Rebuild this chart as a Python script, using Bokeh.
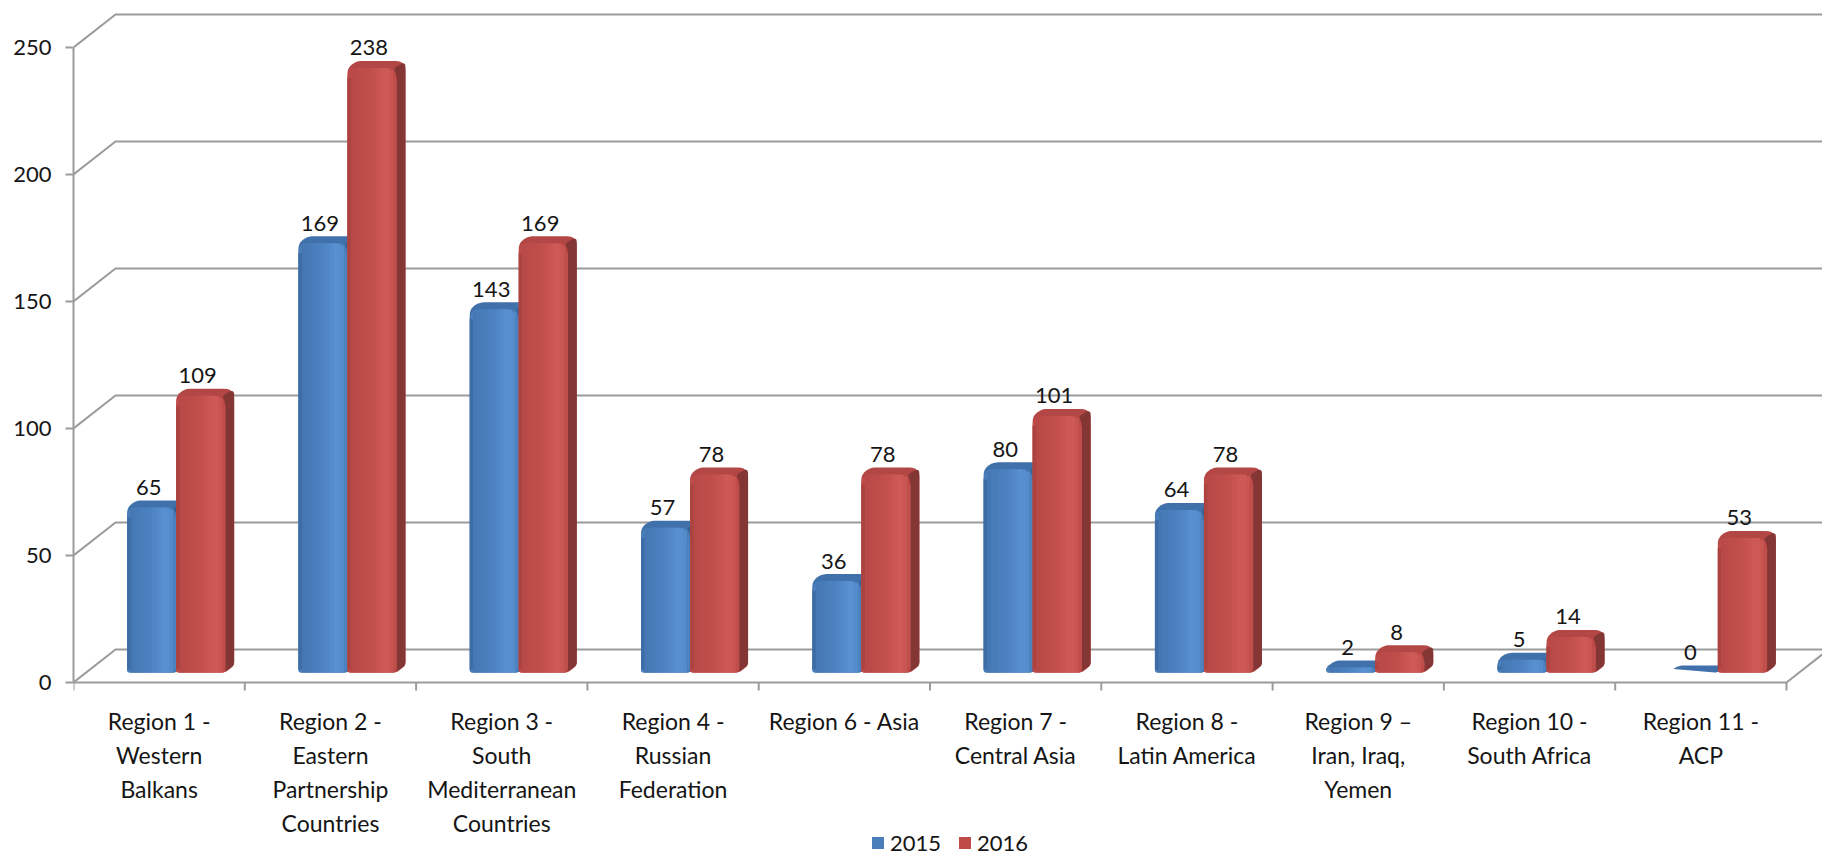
import numpy as np
from bokeh.plotting import figure
from bokeh.models import Range1d, FixedTicker, Legend, LegendItem
from bokeh.core.properties import value
from bokeh.embed import file_html
from bokeh.resources import INLINE

# ---------------- data ----------------
categories = [
    "Region 1 -\nWestern\nBalkans",
    "Region 2 -\nEastern\nPartnership\nCountries",
    "Region 3 -\nSouth\nMediterranean\nCountries",
    "Region 4 -\nRussian\nFederation",
    "Region 6 - Asia",
    "Region 7 -\nCentral Asia",
    "Region 8 -\nLatin America",
    "Region 9 \u2013\nIran, Iraq,\nYemen",
    "Region 10 -\nSouth Africa",
    "Region 11 -\nACP",
]
values_2015 = [65, 169, 143, 57, 36, 80, 64, 2, 5, 0]
values_2016 = [109, 238, 169, 78, 78, 101, 78, 8, 14, 53]
series_names = ["2015", "2016"]
y_ticks = [0, 50, 100, 150, 200, 250]

# ---------------- layout ----------------
W, H = 1822, 856
LEFT = 73                 # frame left (canvas px)
ZERO_PX = 682             # canvas y of the value-0 front line
CAT_PX = 171.3            # px per category
VAL_PX = 2.54             # px per value unit
PX_X = 1.0 / CAT_PX
PX_Y = 1.0 / VAL_PX
WDX, WDY = 42, 33         # wall depth offset (px)
BASE = 10                 # bar base above front line (px)
BAR_W = 49
BAR_OFF = 17              # boundary between the pair, right of category centre (px)
DDX, DDY = 9, 7           # bar depth (px)
NSTRIP = 14

FONT = value("Lato")
TXT = "#151515"
GRID = "#9B9B9B"

x_end = (W - LEFT) * PX_X
y_end = ZERO_PX * PX_Y
y_start = -(H - ZERO_PX) * PX_Y

p = figure(width=W, height=H, x_range=Range1d(0, x_end), y_range=Range1d(y_start, y_end),
           x_axis_location=None, output_backend="svg", toolbar_location=None,
           min_border_left=LEFT, min_border_right=0, min_border_top=0, min_border_bottom=0)
p.outline_line_color = None
p.grid.visible = False
p.background_fill_color = "white"
p.border_fill_color = "white"

ya = p.yaxis[0]
ya.ticker = FixedTicker(ticks=y_ticks)
ya.bounds = (min(y_ticks), max(y_ticks))
ya.axis_line_color = GRID
ya.axis_line_width = 2
ya.major_tick_line_color = GRID
ya.major_tick_line_width = 2
ya.major_tick_in = 0
ya.major_tick_out = 8
ya.minor_tick_line_color = None
ya.major_label_standoff = 14
ya.major_label_text_font = "Lato"
ya.major_label_text_font_size = "22px"
ya.major_label_text_color = TXT

# back wall gridlines with diagonals
gx, gy = [], []
for t in y_ticks:
    gx.append([0, WDX * PX_X, x_end + 1])
    gy.append([t, t + WDY * PX_Y, t + WDY * PX_Y])
p.multi_line(gx, gy, line_color=GRID, line_width=2)

# floor front line and right diagonal
ncat = len(categories)
p.multi_line([[0, ncat, ncat + WDX * PX_X]], [[0, 0, WDY * PX_Y]], line_color=GRID, line_width=2)
p.segment(x0=list(range(ncat + 1)), y0=[0] * (ncat + 1), x1=list(range(ncat + 1)),
          y1=[-8 * PX_Y] * (ncat + 1), line_color=GRID, line_width=2)


def round_poly(pts, radii, n=7):
    clean, rr = [], []
    for q, r in zip(pts, radii):
        if clean and abs(clean[-1][0] - q[0]) < 1e-9 and abs(clean[-1][1] - q[1]) < 1e-9:
            continue
        clean.append(q); rr.append(r)
    P = np.array(clean, dtype=float)
    N = len(P)
    out = []
    for i in range(N):
        p0, p1, p2 = P[i - 1], P[i], P[(i + 1) % N]
        d1 = p0 - p1; l1 = np.hypot(*d1)
        d2 = p2 - p1; l2 = np.hypot(*d2)
        r = min(rr[i], l1 / 2, l2 / 2)
        a = p1 + d1 / l1 * r
        b = p1 + d2 / l2 * r
        for t in np.linspace(0, 1, n):
            out.append((1 - t) ** 2 * a + 2 * (1 - t) * t * p1 + t ** 2 * b)
    return np.array(out)


def to_data(local, x0, y0):
    return list(x0 + local[:, 0] * PX_X), list(y0 + local[:, 1] * PX_Y)


def hex2rgb(h):
    h = h.lstrip("#")
    return np.array([int(h[i:i + 2], 16) for i in (0, 2, 4)], dtype=float)


def grad(stops, u):
    us = [s[0] for s in stops]
    cols = np.array([hex2rgb(s[1]) for s in stops])
    rgb = [np.interp(u, us, cols[:, k]) for k in range(3)]
    return "#%02x%02x%02x" % tuple(int(round(c)) for c in rgb)


styles = [
    dict(front="#4A7EBB", side="#36608F", top="#4171AA",
         stops=[(0, "#3B689F"), (0.12, "#4679B5"), (0.5, "#4D83C2"), (0.78, "#5A91D3"), (0.93, "#528ACB"), (1, "#4779B5")]),
    dict(front="#BE4B48", side="#843634", top="#B34745",
         stops=[(0, "#A5423F"), (0.12, "#B94A47"), (0.5, "#C2504D"), (0.78, "#D05B58"), (0.93, "#C85450"), (1, "#B84A47")]),
]

RT = 10   # top corner radius (px)
RB = 3

front_renderers = []
label_x, label_y, label_t = [], [], []
for s, vals in enumerate([values_2015, values_2016]):
    st = styles[s]
    sil_x, sil_y, side_x, side_y, fr_x, fr_y = [], [], [], [], [], []
    ql, qr, qb, qt, qc = [], [], [], [], []
    for i, v in enumerate(vals):
        c = i + 0.5
        xl = c + BAR_OFF * PX_X - (BAR_W * PX_X if s == 0 else 0)
        yb = BASE * PX_Y
        h = v * VAL_PX
        w = BAR_W
        sil = round_poly([(0, 0), (w, 0), (w + DDX, DDY), (w + DDX, h + DDY), (DDX, h + DDY), (0, h)],
                         [RB, RB, 4, RT, RT, RT])
        xx, yy = to_data(sil, xl, yb)
        sil_x.append(xx); sil_y.append(yy)
        if h >= 2:
            sd = round_poly([(w - 2, 0), (w + DDX, DDY), (w + DDX, h + DDY), (w - 2, h)], [2, 3, RT - 2, 2])
            xx, yy = to_data(sd, xl, yb)
            side_x.append(xx); side_y.append(yy)
            rt = min(RT, h / 2, w / 2)
            fr = round_poly([(0, 0), (w, 0), (w, h), (0, h)], [RB, RB, rt, rt])
            xx, yy = to_data(fr, xl, yb)
            fr_x.append(xx); fr_y.append(yy)
            # gradient strips following the rounded top profile
            edges = np.linspace(0, w, NSTRIP + 1)
            for k in range(NSTRIP):
                a, b = edges[k], edges[k + 1]
                def prof(x):
                    if x < rt:
                        return h - rt + np.sqrt(max(rt ** 2 - (rt - x) ** 2, 0))
                    if x > w - rt:
                        return h - rt + np.sqrt(max(rt ** 2 - (x - (w - rt)) ** 2, 0))
                    return h
                top = min(prof(a), prof(b))
                bot = RB if (a < RB or b > w - RB) else 0
                if top - bot < 1:
                    continue
                ql.append(xl + a * PX_X); qr.append(xl + b * PX_X + 0.3 * PX_X)
                qb.append(yb + bot * PX_Y); qt.append(yb + top * PX_Y)
                qc.append(grad(st["stops"], (a + b) / 2 / w))
        label_x.append(xl + (w / 2 - 3) * PX_X)
        label_y.append(yb + v + 20 * PX_Y)
        label_t.append(str(v))
    p.patches(sil_x, sil_y, fill_color=st["top"], line_color=None)
    p.patches(side_x, side_y, fill_color=st["side"], line_color=None)
    fr_r = p.patches(fr_x, fr_y, fill_color=st["front"], line_color=None)
    front_renderers.append(fr_r)
    p.quad(left=ql, right=qr, bottom=qb, top=qt, fill_color=qc, line_color=None)

# value labels
p.text(x=label_x, y=label_y, text=label_t, text_font=FONT, text_font_size=value("22px"),
       text_color=TXT, text_align="center", text_baseline="alphabetic")

# category labels
cx, cy, ct = [], [], []
for i, cat in enumerate(categories):
    for k, line in enumerate(cat.split("\n")):
        cx.append(i + 0.5)
        cy.append(-(38 + 34 * k) * PX_Y)
        ct.append(line)
p.text(x=cx, y=cy, text=ct, text_font=FONT, text_font_size=value("23px"),
       text_color=TXT, text_align="center", text_baseline="middle")

legend = Legend(items=[LegendItem(label=series_names[0], renderers=[front_renderers[0]]),
                       LegendItem(label=series_names[1], renderers=[front_renderers[1]])],
                orientation="horizontal", location=(870 - LEFT, 0))
legend.label_text_font = "Lato"
legend.label_text_font_size = "22px"
legend.label_text_color = TXT
legend.glyph_width = 15
legend.glyph_height = 15
legend.label_standoff = 5
legend.spacing = 16
legend.padding = 0
legend.margin = 0
legend.border_line_color = None
legend.background_fill_alpha = 0
p.add_layout(legend)

open("out.html", "w").write(file_html(p, INLINE))
